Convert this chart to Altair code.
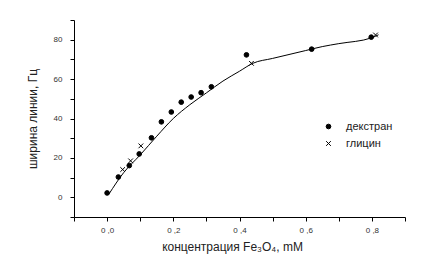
import altair as alt
import pandas as pd

# dextran (filled circles)
dex_x = [0.0, 0.034, 0.067, 0.097, 0.134, 0.164, 0.194, 0.224, 0.254, 0.284, 0.315, 0.421, 0.618, 0.798]
dex_y = [2.2, 10.3, 16.1, 22.0, 30.2, 38.3, 43.3, 48.3, 50.9, 53.1, 56.1, 72.3, 75.2, 81.3]
# glycine (crosses)
gly_x = [0.047, 0.071, 0.102, 0.436, 0.811]
gly_y = [14.1, 18.5, 26.1, 68.0, 82.4]
# fitted curve
fit_x = [0.005, 0.05, 0.1, 0.15, 0.2, 0.25, 0.3, 0.35, 0.4, 0.44, 0.5, 0.6, 0.65, 0.7, 0.8, 0.82]
fit_y = [1.5, 12.5, 21.5, 31.0, 40.0, 47.0, 53.0, 59.0, 64.0, 68.0, 70.5, 74.5, 76.5, 78.0, 81.0, 82.5]

series_names = ["декстран", "глицин"]
x_ticks = [-0.1, 0.0, 0.1, 0.2, 0.3, 0.4, 0.5, 0.6, 0.7, 0.8, 0.9]
y_ticks = [-10, 0, 10, 20, 30, 40, 50, 60, 70, 80, 90]

pts = pd.DataFrame(
    [{"x": a, "y": b, "s": series_names[0]} for a, b in zip(dex_x, dex_y)]
    + [{"x": a, "y": b, "s": series_names[1]} for a, b in zip(gly_x, gly_y)]
)
fit = pd.DataFrame({"x": fit_x, "y": fit_y})

FONT = "Liberation Sans"

xscale = alt.Scale(domain=[-0.1, 0.9], nice=False, zero=False)
yscale = alt.Scale(domain=[-10, 90], nice=False, zero=False)

xaxis = alt.Axis(
    title="концентрация Fe₃O₄, mM",
    values=x_ticks,
    format=".1f",
    labelExpr="(round(datum.value * 10) % 2 != 0) ? '' : replace(datum.label, '.', ' ,')",
    labelOverlap=False,
    grid=False, domainColor="black", tickColor="black", tickSize=4,
    labelFont=FONT, labelFontSize=8, labelColor="#333333", labelPadding=5,
    titleFont=FONT, titleFontSize=12, titleFontWeight="normal", titleColor="#222222",
    titlePadding=7, titleX=158,
)
yaxis = alt.Axis(
    title="ширина линии, Гц",
    values=y_ticks,
    format="d",
    labelExpr="(round(datum.value) % 20 != 0) ? '' : datum.label",
    labelOverlap=False,
    grid=False, domainColor="black", tickColor="black", tickSize=4,
    labelFont=FONT, labelFontSize=8, labelColor="#333333", labelPadding=8,
    titleFont=FONT, titleFontSize=12, titleFontWeight="normal", titleColor="#222222",
    titlePadding=14,
)

line = alt.Chart(fit).mark_line(color="black", strokeWidth=1, interpolate="monotone").encode(
    x=alt.X("x:Q", scale=xscale, axis=xaxis),
    y=alt.Y("y:Q", scale=yscale, axis=yaxis),
)

cross = "M-1,-1L1,1M-1,1L1,-1"
leg = alt.Legend(title=None, orient="none", legendX=249, legendY=101,
                 labelFont=FONT, labelFontSize=11, labelColor="#222222",
                 symbolSize=22, rowPadding=5, labelOffset=12, symbolStrokeWidth=1)
points = alt.Chart(pts).mark_point(stroke="black", strokeWidth=1, opacity=1, size=22).encode(
    x=alt.X("x:Q", scale=xscale, axis=xaxis),
    y=alt.Y("y:Q", scale=yscale, axis=yaxis),
    shape=alt.Shape("s:N", scale=alt.Scale(domain=series_names, range=["circle", cross]), legend=leg),
    fill=alt.Fill("s:N", scale=alt.Scale(domain=series_names, range=["black", "transparent"]), legend=leg),
)

chart = (line + points).properties(
    width=331, height=197,
    padding={"left": 74, "top": 20, "right": 25, "bottom": 58},
    autosize="none",
    background="white",
).configure_view(stroke=None)

chart.save("out.html", embed_options={"renderer": "svg", "actions": False})
